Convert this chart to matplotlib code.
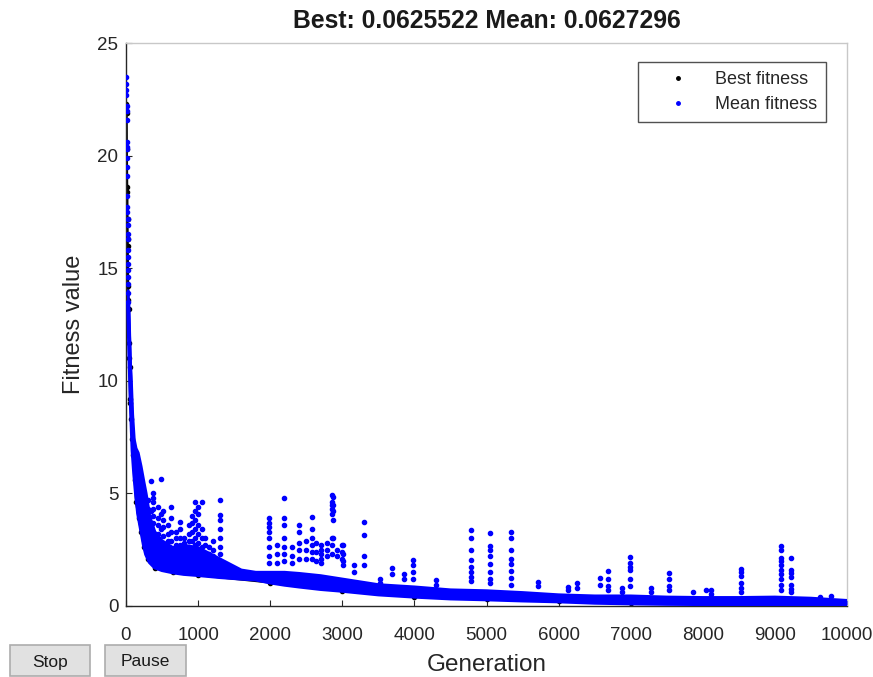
import matplotlib
matplotlib.use("Agg")
import matplotlib.pyplot as plt
from matplotlib.patches import Rectangle

plt.rcParams['font.family'] = ['Liberation Sans', 'DejaVu Sans']

title_text = "Best: 0.0625522 Mean: 0.0627296"
x_label = "Generation"
y_label = "Fitness value"
x_ticks = [0, 1000, 2000, 3000, 4000, 5000, 6000, 7000, 8000, 9000, 10000]
y_ticks = [0, 5, 10, 15, 20, 25]

# first generations, drawn as separate points
early_gen = [2, 3, 4, 5, 7, 8, 9, 11, 12, 13, 14, 15, 16, 18, 19, 20, 21, 22, 23,
             24, 25, 26, 27, 28, 29, 30, 31, 32]
early_mean = [23.48, 23.2, 22.9, 22.7, 22.2, 22.0, 21.6, 20.6, 20.4, 20.3, 19.9, 19.5,
              19.1, 18.2, 17.7, 17.5, 17.2, 16.9, 16.5, 16.3, 15.8, 15.5, 15.2, 14.9,
              14.6, 14.3, 13.9, 13.5]

# best fitness
best_gen = [6, 10, 12, 17, 19, 21, 24, 25, 30, 33, 36, 42, 46, 50, 55, 62, 70, 85,
            100, 120, 140, 175, 210, 250, 300, 400, 650, 1000, 2000, 3000, 4000,
            5000, 6000, 7000, 8000, 9000, 10000]
best_vals = [22.3, 21.9, 20.3, 18.6, 18.4, 17.2, 16.3, 16.0, 14.2, 13.6, 13.2, 11.7,
             11.0, 10.6, 9.2, 9.0, 8.3, 7.4, 6.7, 5.6, 4.6, 3.9, 3.3, 2.6, 2.1, 1.7,
             1.5, 1.37, 1.04, 0.67, 0.41, 0.29, 0.2, 0.115, 0.088, 0.068, 0.0625522]

# mean fitness: lower edge and top of the dense band
base_gen = [30, 40, 50, 60, 75, 93, 115, 140, 170, 210, 250, 280, 330, 400, 500, 650,
            800, 1000, 1300, 1600, 1800, 2000, 2200, 2400, 2700, 3000, 3500, 4000,
            4500, 5000, 5500, 6000, 6500, 7000, 7500, 8000, 8500, 9000, 9500, 10000]
base_mean = [13.5, 12.3, 11.0, 9.9, 8.4, 6.9, 5.9, 5.0, 4.1, 3.4, 2.7, 2.3, 1.95, 1.72,
             1.6, 1.5, 1.43, 1.38, 1.29, 1.22, 1.18, 1.05, 0.95, 0.87, 0.76, 0.68,
             0.52, 0.42, 0.34, 0.30, 0.25, 0.21, 0.15, 0.12, 0.10, 0.09, 0.08, 0.07,
             0.065, 0.0627296]
band_top = [14.0, 13.0, 12.0, 11.0, 10.0, 8.5, 7.4, 7.0, 6.8, 6.2, 5.5, 5.0, 4.0, 3.3,
            2.9, 2.6, 2.7, 2.6, 2.1, 1.6, 1.5, 1.5, 1.5, 1.45, 1.35, 1.2, 0.95, 0.85,
            0.72, 0.68, 0.6, 0.5, 0.45, 0.45, 0.4, 0.38, 0.38, 0.4, 0.35, 0.25]

# scattered high mean values (columns of points)
spike_gen = [300, 349, 380, 440, 488, 520, 580, 627, 700, 743, 800, 880, 920, 960,
             1000, 1050, 1100, 1150, 1200, 1299, 1985, 2100, 2193, 2300, 2400, 2500,
             2575, 2640, 2700, 2792, 2852, 2875, 2930, 2990, 3014, 3160, 3306, 3524,
             3687, 3849, 3974, 4303, 4790, 5054, 5342, 5712, 6135, 6260, 6575, 6686,
             6886, 6992, 7280, 7530, 7860, 8045, 8115, 8531, 9088, 9227, 9621, 9773]
spike_vals = [
    [4.7, 4.3, 3.9, 3.5],
    [5.57, 4.2, 3.6, 3.1],
    [5.0, 4.8, 4.6, 4.3, 4.0, 3.7, 3.3, 3.0],
    [4.4, 3.9, 3.6, 3.2, 2.9],
    [5.64, 4.1, 3.4],
    [4.2, 3.8, 3.5, 3.1, 2.8],
    [3.6, 3.2, 2.9],
    [4.4, 3.9, 3.3, 2.9],
    [3.3, 3.0, 2.7],
    [3.75, 3.4, 3.0, 2.7],
    [3.0, 2.8],
    [3.6, 3.2, 2.9, 2.6],
    [4.0, 3.7, 3.3, 2.9],
    [4.6, 4.2, 3.8, 3.4, 3.0, 2.7],
    [4.4, 4.1, 3.6, 3.2, 2.8],
    [4.6, 3.4, 3.0, 2.6],
    [3.0, 2.7],
    [2.6, 2.3],
    [2.9, 2.5, 2.2],
    [4.7, 4.05, 3.8, 3.4, 3.0, 2.6, 2.3, 2.0],
    [3.9, 3.7, 3.5, 3.3, 3.0, 2.6, 2.2, 1.9],
    [2.7, 2.3, 1.9],
    [4.8, 3.9, 3.6, 3.0, 2.6, 2.3, 2.0],
    [2.6, 2.2, 1.9],
    [3.6, 3.3, 2.8, 2.5, 2.1],
    [2.9, 2.5, 2.1],
    [3.97, 3.4, 3.0, 2.7, 2.4, 2.1],
    [2.8, 2.4, 2.0],
    [2.7, 2.5, 2.3, 2.1, 1.9],
    [2.8, 2.5, 2.2],
    [4.93, 4.6, 4.5, 4.3, 4.1, 3.0, 2.7, 2.3],
    [4.86, 4.5, 4.2, 3.8, 3.0],
    [2.5, 2.2],
    [2.7, 2.4, 2.1],
    [2.7, 2.3, 2.0, 1.8],
    [1.8, 1.5],
    [3.72, 3.15, 2.2, 1.8],
    [1.2, 1.0],
    [1.67, 1.4],
    [1.4, 1.2],
    [2.04, 1.8, 1.5, 1.2],
    [1.16, 0.95],
    [3.38, 3.0, 2.49, 2.05, 1.75, 1.5, 1.3, 1.1],
    [3.23, 2.65, 2.5, 2.2, 1.85, 1.5, 1.2, 1.0],
    [3.3, 3.0, 2.5, 2.1, 1.85, 1.55, 1.25, 0.95],
    [1.08, 0.9],
    [0.86, 0.7],
    [1.0, 0.8],
    [1.23, 0.95],
    [1.57, 1.2, 0.9, 0.7],
    [0.8, 0.6],
    [2.16, 1.9, 1.75, 1.6, 1.2, 0.9],
    [0.8, 0.6],
    [1.45, 1.2, 0.9, 0.7],
    [0.6],
    [0.7],
    [0.71, 0.55],
    [1.63, 1.5, 1.35, 1.0, 0.8, 0.6],
    [2.67, 2.5, 2.15, 2.0, 1.8, 1.6, 1.4, 1.2, 0.95, 0.7],
    [2.12, 1.6, 1.45, 1.3, 0.95, 0.75, 0.6],
    [0.4],
    [0.45],
]

BLUE = '#0000ff'
TXT = '#262626'
W, H = 873, 677
fig = plt.figure(figsize=(W / 100, H / 100), dpi=100)
ax = fig.add_axes([126 / W, 1 - 606 / H, (847 - 126) / W, (606 - 43) / H])

ms = 6
# best fitness first (mostly covered by mean)
ax.plot(best_gen, best_vals, linestyle='-', color='k', lw=1.5, zorder=2)
ax.plot(best_gen, best_vals, linestyle='none', marker='.', ms=ms, color='k', zorder=2)

# mean fitness
ax.fill_between(base_gen, base_mean, band_top, color=BLUE, lw=0, zorder=3)
ax.plot(base_gen, base_mean, color=BLUE, lw=3, solid_capstyle='round', zorder=3)
ax.plot(base_gen, band_top, color=BLUE, lw=2, solid_capstyle='round', zorder=3)
ax.plot(early_gen, early_mean, linestyle='none', marker='.', ms=ms, color=BLUE, zorder=4)
sx, sy = [], []
for g, vals in zip(spike_gen, spike_vals):
    for v in vals:
        sx.append(g)
        sy.append(v)
ax.plot(sx, sy, linestyle='none', marker='.', ms=ms, color=BLUE, zorder=4)

# legend proxies
h1, = ax.plot([], [], linestyle='none', marker='.', ms=5, color='k')
h2, = ax.plot([], [], linestyle='none', marker='.', ms=5, color=BLUE)
leg = ax.legend([h1, h2], ['Best fitness', 'Mean fitness'], loc='upper right',
                bbox_to_anchor=(0.971, 0.966), borderaxespad=0, fontsize=13,
                frameon=True, fancybox=False, borderpad=0.5, handlelength=3.5,
                handletextpad=0.28, labelspacing=0.45)
leg.get_frame().set_edgecolor(TXT)
leg.get_frame().set_linewidth(1.0)
for t in leg.get_texts():
    t.set_color(TXT)

ax.set_xlim(0, 10000)
ax.set_ylim(0, 25)
ax.set_xticks(x_ticks)
ax.set_yticks(y_ticks)
ax.tick_params(direction='in', length=4, width=0.8, colors=TXT, labelsize=13.5)
ax.tick_params(axis='x', pad=15)
ax.tick_params(axis='y', pad=5.5)
for s in ['left', 'bottom']:
    ax.spines[s].set_color(TXT)
    ax.spines[s].set_linewidth(1.0)
for s in ['top', 'right']:
    ax.spines[s].set_color('#c8c8c8')
    ax.spines[s].set_linewidth(1.0)

ax.set_xlabel(x_label, fontsize=17.5, color=TXT, labelpad=7)
ax.set_ylabel(y_label, fontsize=17, color=TXT, labelpad=9)
ax.set_title(title_text, fontsize=17.8, fontweight='bold', color='#1a1a1a', pad=11)

# GUI buttons
for (x0, x1, lab) in [(10, 90, 'Stop'), (105, 186, 'Pause')]:
    r = Rectangle((x0 / W, 1 - 676 / H), (x1 - x0) / W, (676 - 645) / H,
                  transform=fig.transFigure, facecolor='#e1e1e1', edgecolor='#adadad',
                  lw=1.2, zorder=1)
    fig.patches.append(r)
    fig.text((x0 + x1) / 2 / W, 1 - 662 / H, lab, ha='center', va='center',
             fontsize=12.5, color='#1a1a1a')

fig.savefig('out.png', dpi=100)
